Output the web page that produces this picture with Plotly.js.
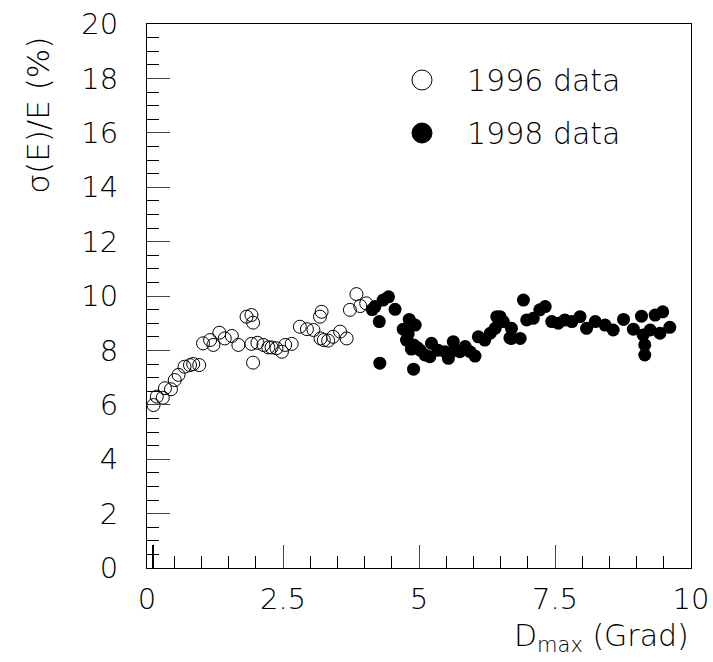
<!DOCTYPE html>
<html>
<head>
<meta charset="utf-8">
<script src="https://cdn.plot.ly/plotly-3.0.1.min.js"></script>
<style>html,body{margin:0;padding:0;background:#fff;}#chart{width:713px;height:662px;}</style>
</head>
<body>
<div id="chart"></div>
<script>
// 1996 data (open circles)
var x1996 = [0.12,0.18,0.29,0.33,0.44,0.51,0.58,0.69,0.79,0.85,0.96,1.03,1.16,1.22,1.33,1.43,1.56,1.68,1.83,1.92,1.95,1.92,1.95,2.03,2.14,2.23,2.29,2.38,2.48,2.54,2.66,2.81,2.94,3.06,3.21,3.18,3.19,3.25,3.33,3.42,3.55,3.67,3.73,3.85,3.92,4.03];
var y1996 = [5.99,6.30,6.26,6.61,6.57,6.91,7.10,7.40,7.46,7.50,7.46,8.26,8.38,8.20,8.65,8.44,8.53,8.20,9.24,9.30,9.02,8.24,7.55,8.28,8.20,8.11,8.11,8.08,7.95,8.20,8.24,8.87,8.78,8.75,9.42,9.24,8.44,8.38,8.36,8.50,8.69,8.44,9.49,10.07,9.63,9.73];
// 1998 data (filled circles)
var x1998 = [4.14,4.19,4.27,4.28,4.34,4.44,4.56,4.71,4.77,4.80,4.82,4.86,4.90,4.90,4.93,4.97,5.02,5.11,5.20,5.23,5.35,5.48,5.54,5.63,5.66,5.75,5.85,5.94,6.03,6.09,6.21,6.31,6.40,6.43,6.49,6.55,6.67,6.70,6.70,6.86,6.92,6.98,7.10,7.22,7.32,7.44,7.56,7.68,7.81,7.96,8.08,8.24,8.42,8.57,8.76,8.94,9.09,9.12,9.15,9.15,9.25,9.34,9.43,9.48,9.61];
var y1998 = [9.50,9.61,9.06,7.53,9.85,9.97,9.51,8.78,8.38,8.60,9.14,8.05,8.20,7.31,8.93,8.10,8.01,7.83,7.77,8.26,8.01,7.95,7.71,8.32,8.01,7.95,8.14,7.95,7.79,8.50,8.38,8.63,8.81,9.24,9.24,9.06,8.46,8.81,8.44,8.44,9.85,9.12,9.18,9.49,9.61,9.06,9.00,9.12,9.06,9.24,8.81,9.06,8.93,8.75,9.14,8.78,9.26,8.57,8.20,7.83,8.75,9.30,8.63,9.42,8.85];
var xTickVals = [0,2.5,5,7.5,10];
var xTickText = ['0','2.5','5','7.5','10'];
var yTickVals = [0,2,4,6,8,10,12,14,16,18,20];
var legendNames = ['1996 data','1998 data'];

var FONT = '"DejaVu Sans", Lato, sans-serif';
var FW = 200;
var traces = [
  {x:x1996, y:y1996, type:'scatter', mode:'markers', name:legendNames[0],
   marker:{symbol:'circle-open', size:13, color:'#000', line:{width:1, color:'#000'}}},
  {x:x1998, y:y1998, type:'scatter', mode:'markers', name:legendNames[1],
   marker:{symbol:'circle', size:13, color:'#000'}}
];
var axCommon = {
  showgrid:false, zeroline:false, showline:true, mirror:true, linecolor:'#000', linewidth:1,
  ticks:'inside', tickcolor:'#444', tickwidth:1, fixedrange:true,
  tickfont:{family:FONT, size:29, color:'#000', weight:FW}
};
var layout = {
  width:713, height:662,
  margin:{l:147, r:22, t:24, b:94},
  paper_bgcolor:'#fff', plot_bgcolor:'#fff',
  showlegend:false,
  xaxis: Object.assign({}, axCommon, {range:[0,10], tickmode:'array', tickvals:xTickVals, ticktext:xTickText,
    ticklen:23, ticklabelstandoff:5,
    minor:{dtick:0.5, tick0:0, ticks:'inside', ticklen:12, tickcolor:'#000', showgrid:false}}),
  yaxis: Object.assign({}, axCommon, {range:[0,20], tickmode:'array', tickvals:yTickVals,
    ticklen:23, ticklabelstandoff:22,
    minor:{dtick:0.5, tick0:0, ticks:'inside', ticklen:12, tickcolor:'#000', showgrid:false}}),
  annotations:[
    {text:'σ(E)/E (%)', xref:'paper', yref:'paper', x:-0.2, y:0.98, xanchor:'center', yanchor:'top',
     textangle:-90, showarrow:false, font:{family:FONT, size:31, color:'#000', weight:FW}},
    {text:'D<sub>max</sub> (Grad)', xref:'paper', yref:'paper', x:1.0, y:-0.127, xanchor:'right', yanchor:'middle',
     showarrow:false, font:{family:FONT, size:30, color:'#000', weight:FW}},
    {text:legendNames[0], xref:'paper', yref:'paper', x:0.5846, y:0.897, xanchor:'left', yanchor:'middle',
     showarrow:false, font:{family:FONT, size:30, color:'#000', weight:FW}},
    {text:legendNames[1], xref:'paper', yref:'paper', x:0.5846, y:0.7996, xanchor:'left', yanchor:'middle',
     showarrow:false, font:{family:FONT, size:30, color:'#000', weight:FW}}
  ],
  shapes:[
    {type:'line', xref:'x', yref:'y', x0:0.11, x1:0.11, y0:0, y1:0.85, line:{color:'#000', width:2}},
    {type:'circle', xref:'paper', yref:'paper', x0:0.4871, x1:0.5239, y0:0.8787, y1:0.9154,
     line:{color:'#000', width:1}, fillcolor:'rgba(0,0,0,0)'},
    {type:'circle', xref:'paper', yref:'paper', x0:0.4871, x1:0.5239, y0:0.7812, y1:0.8180,
     line:{color:'#000', width:1}, fillcolor:'#000'}
  ]
};
Plotly.newPlot('chart', traces, layout, {staticPlot:true, displayModeBar:false});
</script>
</body>
</html>
